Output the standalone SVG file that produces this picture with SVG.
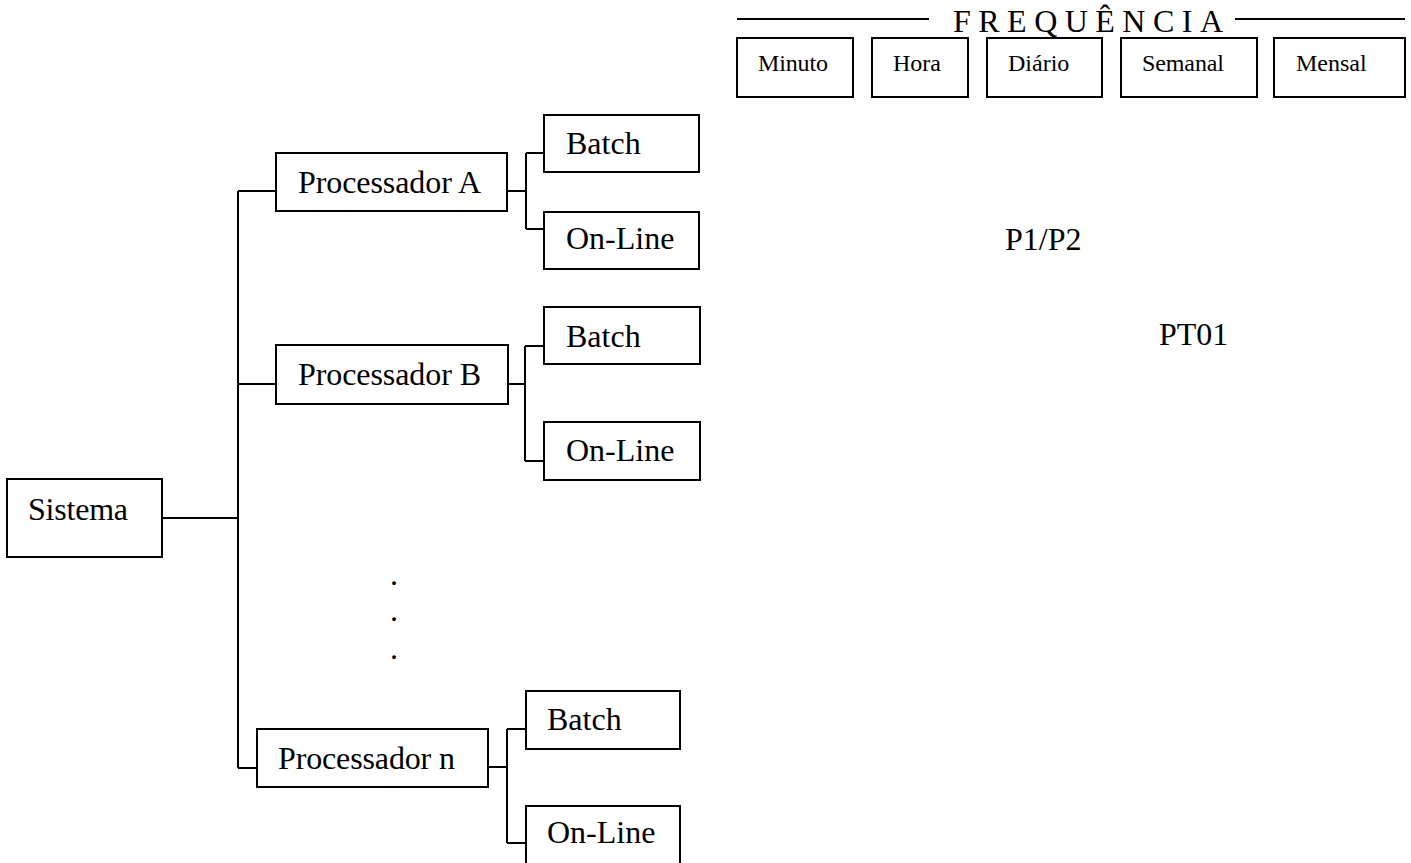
<svg xmlns="http://www.w3.org/2000/svg" width="1411" height="863" viewBox="0 0 1411 863">
<style>
.box{fill:#fff;stroke:#000;stroke-width:2}
.ln{fill:none;stroke:#000;stroke-width:2}
.t{font-family:"Liberation Serif","Times New Roman",serif;font-size:32px;fill:#000}
.s{font-family:"Liberation Serif","Times New Roman",serif;font-size:24px;fill:#000}
</style>
<rect width="1411" height="863" fill="#fff"/>
<g id="connectors">
<line class="ln" x1="737" y1="19" x2="929" y2="19"/>
<line class="ln" x1="1235" y1="19" x2="1405" y2="19"/>
<path class="ln" d="M162 518 H238 M238 191 V768 M238 191 H276 M238 384 H276 M238 768 H257"/>
<path class="ln" d="M507 191 H526 M526 153 V229 M526 153 H544 M526 229 H544"/>
<path class="ln" d="M508 384 H525 M525 346 V461 M525 346 H544 M525 461 H544"/>
<path class="ln" d="M488 767 H507 M507 729 V843 M507 729 H526 M507 843 H526"/>
</g>
<g id="frequencia"><text class="t" x="953" y="32" font-size="28" textLength="270" lengthAdjust="spacing">FREQUÊNCIA</text></g>
<g id="minuto"><rect class="box" x="737" y="38" width="116" height="59"/><text class="s" x="758" y="71" textLength="70">Minuto</text></g>
<g id="hora"><rect class="box" x="872" y="38" width="96" height="59"/><text class="s" x="893" y="71">Hora</text></g>
<g id="diario"><rect class="box" x="987" y="38" width="115" height="59"/><text class="s" x="1008" y="71">Diário</text></g>
<g id="semanal"><rect class="box" x="1121" y="38" width="136" height="59"/><text class="s" x="1142" y="71" textLength="82">Semanal</text></g>
<g id="mensal"><rect class="box" x="1274" y="38" width="131" height="59"/><text class="s" x="1296" y="71">Mensal</text></g>
<g id="sistema"><rect class="box" x="7" y="479" width="155" height="78"/><text class="t" x="28" y="520" textLength="100">Sistema</text></g>
<g id="procA"><rect class="box" x="276" y="153" width="231" height="58"/><text class="t" x="298" y="193" textLength="183">Processador A</text></g>
<g id="batchA"><rect class="box" x="544" y="115" width="155" height="57"/><text class="t" x="566" y="154">Batch</text></g>
<g id="onlineA"><rect class="box" x="544" y="212" width="155" height="57"/><text class="t" x="566" y="249">On-Line</text></g>
<g id="procB"><rect class="box" x="276" y="345" width="232" height="59"/><text class="t" x="298" y="385" textLength="183">Processador B</text></g>
<g id="batchB"><rect class="box" x="544" y="307" width="156" height="57"/><text class="t" x="566" y="347">Batch</text></g>
<g id="onlineB"><rect class="box" x="544" y="422" width="156" height="58"/><text class="t" x="566" y="461">On-Line</text></g>
<g id="dots"><text class="t" x="390" y="585">.</text><text class="t" x="390" y="621">.</text><text class="t" x="390" y="659">.</text></g>
<g id="procN"><rect class="box" x="257" y="729" width="231" height="58"/><text class="t" x="278" y="769" textLength="177">Processador n</text></g>
<g id="batchN"><rect class="box" x="526" y="691" width="154" height="58"/><text class="t" x="547" y="730">Batch</text></g>
<g id="onlineN"><rect class="box" x="526" y="806" width="154" height="62"/><text class="t" x="547" y="843">On-Line</text></g>
<g id="p1p2"><text class="t" x="1005" y="250">P1/P2</text></g>
<g id="pt01"><text class="t" x="1159" y="345">PT01</text></g>
</svg>
